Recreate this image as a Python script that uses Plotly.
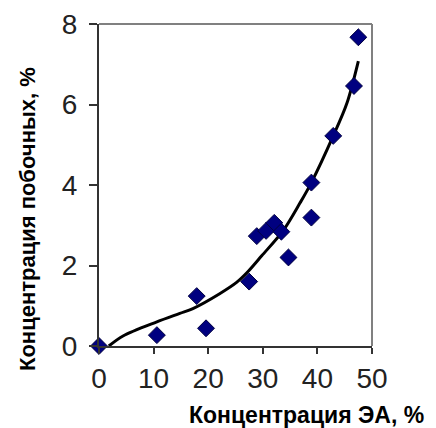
import plotly.graph_objects as go

# Measured points
conc_ea = [0, 10.6, 17.9, 19.6, 27.5, 28.9, 30.6, 32.1, 33.4, 34.7, 38.9, 38.9, 42.9, 46.7, 47.5]
conc_side = [0, 0.27, 1.24, 0.44, 1.6, 2.73, 2.86, 3.06, 2.84, 2.2, 4.06, 3.19, 5.22, 6.46, 7.67]

# Trend line
trend_x = [1.8, 4.4, 10.6, 14.8, 17.2, 22.1, 25.2, 27.3, 29.8, 33.8, 36.8, 38.9, 42.9, 45.4, 47.5]
trend_y = [0.0, 0.25, 0.6, 0.81, 0.93, 1.3, 1.58, 1.85, 2.24, 2.88, 3.55, 4.06, 5.22, 6.03, 7.08]

x_ticks = [0, 10, 20, 30, 40, 50]
y_ticks = [0, 2, 4, 6, 8]

x_title = "Концентрация ЭА, %"
y_title = "Концентрация побочных, %"

# page has an 8px body margin; compensate
OFF = 8
L, T, PW, PH = 99 - OFF, 24 - OFF, 273, 322
W, H = 436 - OFF, 428 - OFF

fig = go.Figure()
fig.add_trace(go.Scatter(x=trend_x, y=trend_y, mode="lines",
                         line=dict(color="black", width=3, shape="spline", smoothing=0.9),
                         hoverinfo="skip", showlegend=False))
fig.add_trace(go.Scatter(x=conc_ea, y=conc_side, mode="markers",
                         marker=dict(symbol="diamond", size=13, color="#000080",
                                     line=dict(color="#000040", width=1)),
                         cliponaxis=False, showlegend=False))

# gray frame top and right
fig.add_shape(type="line", xref="x domain", yref="y domain", x0=0, x1=1, y0=1, y1=1,
              line=dict(color="#808080", width=2), layer="below")
fig.add_shape(type="line", xref="x domain", yref="y domain", x0=1, x1=1, y0=0, y1=1,
              line=dict(color="#808080", width=2), layer="below")

fig.add_annotation(text="<b>" + x_title + "</b>", xref="paper", yref="paper",
                   x=(306 - 99) / PW, y=-(415 - 346) / PH, xanchor="center", yanchor="middle",
                   showarrow=False, font=dict(size=23, color="black"))
fig.add_annotation(text="<b>" + y_title + "</b>", xref="paper", yref="paper",
                   x=-(99 - 27) / PW, y=(346 - 219) / PH, xanchor="center", yanchor="middle",
                   textangle=-90, showarrow=False, font=dict(size=22, color="black"))

fig.update_layout(
    width=W, height=H,
    margin=dict(l=L, r=W - L - PW, t=T, b=H - T - PH),
    paper_bgcolor="white", plot_bgcolor="white",
    font=dict(family="Liberation Sans, Arial, sans-serif", color="black"),
    xaxis=dict(range=[0, 50], tickvals=x_ticks, ticks="outside", ticklen=6, tickwidth=2,
               tickcolor="#333333", showline=True, linecolor="#333333", linewidth=2,
               showgrid=False, zeroline=False, automargin=False,
               tickfont=dict(size=28, color="#222222")),
    yaxis=dict(range=[0, 8], tickvals=y_ticks, ticks="outside", ticklen=8, tickwidth=2,
               tickcolor="#333333", showline=True, linecolor="#333333", linewidth=2,
               showgrid=False, zeroline=False, automargin=False, ticklabelstandoff=6,
               tickfont=dict(size=28, color="#222222")),
)

fig.write_html("out.html")
